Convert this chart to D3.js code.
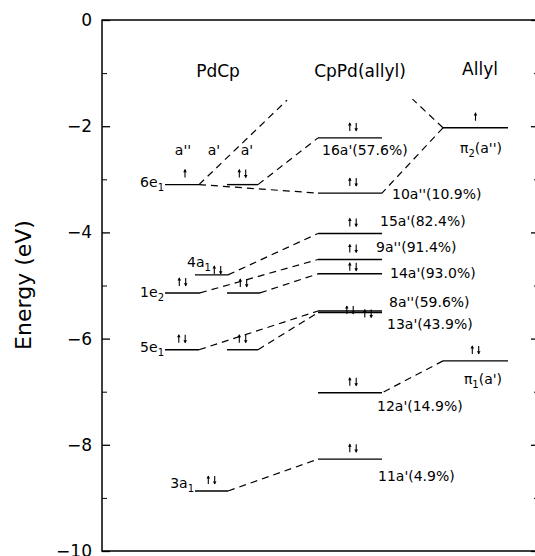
<!DOCTYPE html>
<html><head><meta charset="utf-8">
<script src="https://cdn.jsdelivr.net/npm/d3@7"></script>
<style>body{margin:0;background:#fff}svg{display:block}</style>
</head><body><svg id="c" width="535" height="556"></svg>
<script>
// ---------------- data ----------------
const energyTicks = [0, -2, -4, -6, -8, -10];
const minorTicks = [-1, -3, -5, -7, -9];
const columnTitles = ["PdCp", "CpPd(allyl)", "Allyl"];
const symLabels = ["a''", "a'", "a'"];
// PdCp fragment levels (primed ids = second (a') component of a degenerate e set)
const pdcpIds    = ["6e1", "6e1'", "4a1", "1e2", "1e2'", "5e1", "5e1'", "3a1"];
const pdcpEnergy = [-3.10, -3.10, -4.80, -5.14, -5.14, -6.21, -6.21, -8.87];
const pdcpOcc    = ["u", "ud", "ud", "ud", "ud", "ud", "ud", "ud"];
// CpPd(allyl) complex levels
const complexIds    = ["16a'", "10a''", "15a'", "9a''", "14a'", "8a''", "13a'", "12a'", "11a'"];
const complexEnergy = [-2.22, -3.26, -4.02, -4.51, -4.78, -5.48, -5.51, -7.02, -8.27];
const complexPct    = [57.6, 10.9, 82.4, 91.4, 93.0, 59.6, 43.9, 14.9, 4.9];
const complexOcc    = ["ud", "ud", "ud", "ud", "ud", "ud", "ud", "ud", "ud"];
// Allyl fragment levels
const allylIds    = ["π2", "π1"];
const allylSym    = ["a''", "a'"];
const allylEnergy = [-2.03, -6.42];
const allylOcc    = ["u", "ud"];
// correlation (dashed) lines
const correlations = [
  ["6e1", "10a''"], ["6e1'", "16a'"], ["4a1", "15a'"], ["1e2", "9a''"], ["1e2'", "14a'"],
  ["5e1", "8a''"], ["5e1'", "13a'"], ["3a1", "11a'"], ["π2", "10a''"], ["π1", "12a'"]
];
// partial correlations pointing toward an unoccupied level above (E ≈ -0.95 eV)
const partialTargetEnergy = -0.95;
const partialCorrelations = ["6e1", "π2"];

// ---------------- layout ----------------
const svg = d3.select("#c");
const FONT = "DejaVu Sans, sans-serif";
const pLeft = 102, pRight = 539, pTop = 20, pBottom = 551;
const y = d3.scaleLinear().domain([-10, 0]).range([pBottom, pTop]);

const cols = {
  c1: [165, 199], c2: [227, 258], cm: [195, 228], c3: [318, 382], c4: [443, 508]
};
const pdcpCol = {"6e1": "c1", "6e1'": "c2", "4a1": "cm", "1e2": "c1", "1e2'": "c2", "5e1": "c1", "5e1'": "c2", "3a1": "cm"};

const levels = {};
pdcpIds.forEach((id, i) => {
  let c = cols[pdcpCol[id]].slice();
  if (id === "1e2") c = [165, 200];
  if (id === "1e2'") c = [227, 260];
  levels[id] = {id, E: pdcpEnergy[i], x0: c[0], x1: c[1], occ: pdcpOcc[i], side: "L"};
});
complexIds.forEach((id, i) => {
  levels[id] = {id, E: complexEnergy[i], x0: cols.c3[0], x1: cols.c3[1], occ: complexOcc[i], side: "M", pct: complexPct[i]};
});
allylIds.forEach((id, i) => {
  levels[id] = {id, E: allylEnergy[i], x0: cols.c4[0], x1: cols.c4[1], occ: allylOcc[i], side: "R", sym: allylSym[i]};
});

// ---------------- frame & axes ----------------
const g = svg.append("g");
g.append("path")
  .attr("d", `M${pLeft},${pTop}H${pRight}V${pBottom}H${pLeft}Z`)
  .attr("fill", "none").attr("stroke", "#000").attr("stroke-width", 1.5);

const axL = d3.axisLeft(y).tickValues(energyTicks).tickSize(-8).tickPadding(10)
  .tickFormat(d3.format("d"));
const gL = g.append("g").attr("transform", `translate(${pLeft},0)`).call(axL);
gL.select(".domain").remove();
gL.selectAll("line").attr("stroke-width", 1.3);
gL.selectAll("text").attr("font-family", FONT).attr("font-size", 17).attr("fill", "#000");

const axLm = d3.axisLeft(y).tickValues(minorTicks).tickSize(-5).tickFormat("");
const gLm = g.append("g").attr("transform", `translate(${pLeft},0)`).call(axLm);
gLm.select(".domain").remove();

const axR = d3.axisRight(y).tickValues(energyTicks).tickSize(-8).tickFormat("");
const gR = g.append("g").attr("transform", `translate(${pRight},0)`).call(axR);
gR.select(".domain").remove();
gR.selectAll("line").attr("stroke-width", 1.3);
const axRm = d3.axisRight(y).tickValues(minorTicks).tickSize(-5).tickFormat("");
const gRm = g.append("g").attr("transform", `translate(${pRight},0)`).call(axRm);
gRm.select(".domain").remove();

g.append("text")
  .attr("transform", `translate(31,${285}) rotate(-90)`)
  .attr("text-anchor", "middle")
  .attr("font-family", FONT).attr("font-size", 22).attr("fill", "#000")
  .text("Energy (eV)");

// ---------------- titles ----------------
const titlePos = [[218, 77], [360, 77], [480, 75]];
columnTitles.forEach((t, i) => {
  g.append("text").attr("x", titlePos[i][0]).attr("y", titlePos[i][1])
    .attr("text-anchor", "middle").attr("font-family", FONT).attr("font-size", 17)
    .text(t);
});
const symPos = [183, 214, 247];
symLabels.forEach((t, i) => {
  g.append("text").attr("x", symPos[i]).attr("y", 155)
    .attr("text-anchor", "middle").attr("font-family", FONT).attr("font-size", 14)
    .text(t);
});

// ---------------- correlation lines ----------------
const dash = "7,5";
correlations.forEach(([a, b]) => {
  const A = levels[a], B = levels[b];
  let x1, x2;
  if (A.side === "R") { x1 = A.x0; x2 = B.x1; } else { x1 = A.x1; x2 = B.x0; }
  g.append("line").attr("x1", x1).attr("y1", y(A.E)).attr("x2", x2).attr("y2", y(B.E))
    .attr("stroke", "#000").attr("stroke-width", 1.2).attr("stroke-dasharray", dash);
});
partialCorrelations.forEach(a => {
  const A = levels[a];
  const frac = A.side === "R" ? 0.5 : 0.74;
  const xs = A.side === "R" ? A.x0 : A.x1;
  const xt = A.side === "R" ? cols.c3[1] : cols.c3[0];
  const ys = y(A.E), yt = y(partialTargetEnergy);
  g.append("line").attr("x1", xs).attr("y1", ys)
    .attr("x2", xs + (xt - xs) * frac).attr("y2", ys + (yt - ys) * frac)
    .attr("stroke", "#000").attr("stroke-width", 1.2).attr("stroke-dasharray", dash);
});

// ---------------- level lines ----------------
Object.values(levels).forEach(L => {
  g.append("line").attr("x1", L.x0).attr("x2", L.x1).attr("y1", y(L.E)).attr("y2", y(L.E))
    .attr("stroke", "#000").attr("stroke-width", 1.4);
});

// ---------------- electrons ----------------
function arrow(cx, cy, up) {
  const s = up ? -1 : 1;
  g.append("line").attr("x1", cx).attr("x2", cx).attr("y1", cy - 4 * s).attr("y2", cy + 4 * s)
    .attr("stroke", "#000").attr("stroke-width", 1.1);
  g.append("path")
    .attr("d", `M${cx - 1.8},${cy + 4 * s - 2.6 * s}L${cx},${cy + 4 * s + 0.6 * s}L${cx + 1.8},${cy + 4 * s - 2.6 * s}Z`)
    .attr("fill", "#000");
}
const arrowLayout = {
  "4a1": {dx: 6, lift: 5}, "14a'": {lift: 7}, "8a''": {dx: -3, lift: 1}, "13a'": {dx: 15, lift: -1},
  "1e2'": {lift: 10}, "6e1": {dx: 3}
};
Object.values(levels).forEach(L => {
  const lay = arrowLayout[L.id] || {};
  const cx = (L.x0 + L.x1) / 2 + (lay.dx || 0) + (L.side === "M" ? 3 : 0);
  const cy = y(L.E) - (lay.lift !== undefined ? lay.lift : 11);
  if (L.occ === "u") arrow(cx, cy, true);
  else { arrow(cx - 3.2, cy, true); arrow(cx + 3.2, cy, false); }
});

// ---------------- labels ----------------
function subLabel(xp, yp, main, sub, tail, anchor, size) {
  const t = g.append("text").attr("x", xp).attr("y", yp).attr("text-anchor", anchor)
    .attr("font-family", FONT).attr("font-size", size);
  t.append("tspan").text(main);
  t.append("tspan").attr("dy", 4).attr("font-size", size - 4).text(sub);
  if (tail) t.append("tspan").attr("dy", -4).text(tail);
  return t;
}
const leftLabelLayout = {"6e1": 2, "1e2": 4, "5e1": 2, "3a1": -3};
["6e1", "1e2", "5e1", "3a1"].forEach(id => {
  const L = levels[id];
  subLabel(L.x0 - 1, y(L.E) + leftLabelLayout[id], id.slice(0, 2), id.slice(2), null, "end", 14);
});
{
  const L = levels["4a1"];
  subLabel(L.x0 - 8, y(L.E) - 8, "4a", "1", null, "start", 14);
}
const complexLabelLayout = {
  "16a'": [322, 17], "10a''": [392, 6], "15a'": [380, -7], "9a''": [376, -7], "14a'": [390, 4],
  "8a''": [389, -4], "13a'": [387, 16], "12a'": [377, 18], "11a'": [378, 22]
};
complexIds.forEach(id => {
  const L = levels[id], p = complexLabelLayout[id];
  g.append("text").attr("x", p[0]).attr("y", y(L.E) + p[1])
    .attr("font-family", FONT).attr("font-size", 14)
    .text(`${id}(${L.pct.toFixed(1)}%)`);
});
const allylLabelLayout = {"π2": [481, 25], "π1": [483, 23]};
allylIds.forEach(id => {
  const L = levels[id], p = allylLabelLayout[id];
  subLabel(p[0], y(L.E) + p[1], "π", id.slice(1), `(${L.sym})`, "middle", 14);
});
</script></body></html>
